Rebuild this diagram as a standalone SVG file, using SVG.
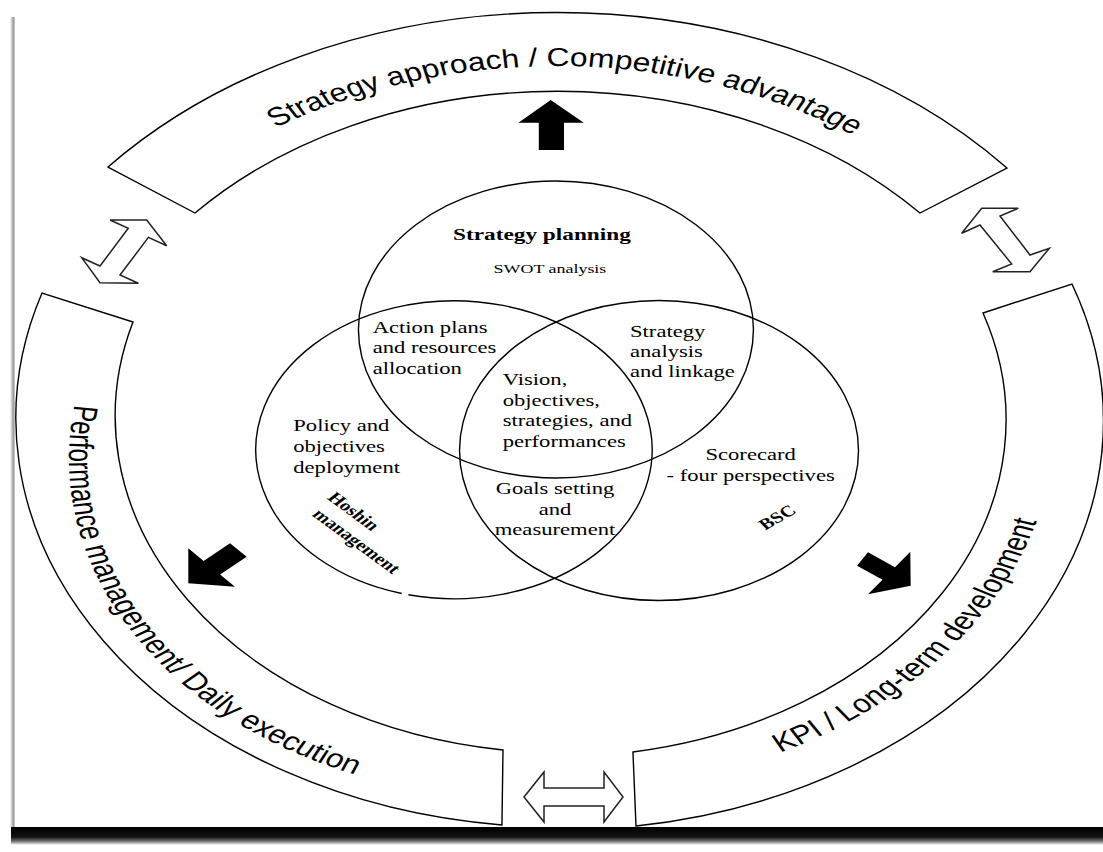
<svg xmlns="http://www.w3.org/2000/svg" xmlns:xlink="http://www.w3.org/1999/xlink" width="1103" height="852" viewBox="0 0 1103 852">
<defs>
<style>
.band{fill:#fff;stroke:#000;stroke-width:1.4;vector-effect:non-scaling-stroke;stroke-linejoin:miter}
.venn{fill:none;stroke:#000;stroke-width:1.4;vector-effect:non-scaling-stroke}
.solid{fill:#000;stroke:none}
.hollow{fill:#fff;stroke:#222;stroke-width:1.5;stroke-linejoin:miter}
.arcl{font-family:"Liberation Sans",Arial,sans-serif;font-size:26px;fill:#000}
.sf{font-family:"Liberation Serif","Times New Roman",serif;fill:#000;font-size:17px}
.b{font-weight:bold}
</style>
<linearGradient id="shadowB" x1="0" y1="0" x2="0" y2="1">
<stop offset="0" stop-color="#000"/>
<stop offset="0.55" stop-color="#111"/>
<stop offset="0.8" stop-color="#777"/>
<stop offset="1" stop-color="#fff"/>
</linearGradient>
<linearGradient id="shadowL" x1="0" y1="0" x2="1" y2="0">
<stop offset="0" stop-color="#fff"/>
<stop offset="0.5" stop-color="#bbb"/>
<stop offset="1" stop-color="#888"/>
</linearGradient>
<path id="pTop" d="M221,256.1 A392,392 0 0 1 899.8,268"/>
<path id="pLeft" d="M236.3,287.6 A339.2,339.2 0 0 0 527.4,797.9"/>
<path id="pRight" d="M495.6,786.7 A374,374 0 0 0 909.4,289.5"/>
</defs>
<rect width="1103" height="852" fill="#fff"/>
<g id="frame">
<rect x="10" y="17" width="4.5" height="811" fill="url(#shadowL)"/>
<rect x="11" y="827" width="1092" height="18" fill="url(#shadowB)"/>
</g>
<g id="diagram" transform="matrix(1.33 0 0 1 -183.81 0)">
<g id="band-top"><path class="band" d="M219.4,167 A446,446 0 0 1 895.3,168 L829.9,213 A366,366 0 0 0 284.8,213 Z"/>
<text class="arcl"><textPath xlink:href="#pTop" href="#pTop" startOffset="50%" text-anchor="middle" textLength="460" lengthAdjust="spacingAndGlyphs">Strategy approach / Competitive advantage</textPath></text></g>
<g id="band-left"><path class="band" d="M169.8,293 A409,409 0 0 0 515.6,825 L516.4,750 A337,337 0 0 1 238.2,322 Z"/>
<text class="arcl"><textPath xlink:href="#pLeft" href="#pLeft" startOffset="50%" text-anchor="middle" textLength="460" lengthAdjust="spacingAndGlyphs">Performance management/ Daily execution</textPath></text></g>
<g id="band-right"><path class="band" d="M944.2,284 A409,409 0 0 1 616.4,826 L614.1,752 A337,337 0 0 0 877.3,313 Z"/>
<text class="arcl"><textPath xlink:href="#pRight" href="#pRight" startOffset="50%" text-anchor="middle" textLength="310" lengthAdjust="spacingAndGlyphs">KPI / Long-term development</textPath></text></g>
<g id="circle-top"><circle class="venn" cx="556.2" cy="329.5" r="148.5"/>
<text class="sf b" x="545.7" y="240" text-anchor="middle" style="font-size:17.5px">Strategy planning</text>
<text class="sf" x="551.7" y="273" text-anchor="middle" style="font-size:13.5px">SWOT analysis</text></g>
<g id="circle-left"><path class="venn" d="M440.2,593.5 A149,149 0 1 1 445.3,594.8"/>
<text class="sf" x="358.7" y="431">Policy and</text>
<text class="sf" x="358.7" y="452">objectives</text>
<text class="sf" x="358.7" y="473">deployment</text>
<text class="sf b" transform="translate(404.4,511) rotate(44.2)" text-anchor="middle" dy="0.35em" style="font-size:15.5px">Hoshin</text>
<text class="sf b" transform="translate(406.6,541) rotate(44.2)" text-anchor="middle" dy="0.35em" style="font-size:15.5px">management</text></g>
<g id="circle-right"><circle class="venn" cx="633.7" cy="450.5" r="150"/>
<text class="sf" x="702.6" y="460" text-anchor="middle">Scorecard</text>
<text class="sf" x="702.6" y="481.5" text-anchor="middle">- four perspectives</text>
<text class="sf b" transform="translate(722.4,517) rotate(-37)" text-anchor="middle" dy="0.35em" style="font-size:15.5px">BSC</text></g>
<g id="overlap-top-left">
<text class="sf" x="418.4" y="332.7">Action plans</text>
<text class="sf" x="418.4" y="353.3">and resources</text>
<text class="sf" x="418.4" y="374">allocation</text></g>
<g id="overlap-top-right">
<text class="sf" x="611.9" y="336.7">Strategy</text>
<text class="sf" x="611.9" y="357">analysis</text>
<text class="sf" x="611.9" y="377.5">and linkage</text></g>
<g id="overlap-center">
<text class="sf" x="516.2" y="385">Vision,</text>
<text class="sf" x="516.2" y="405.7">objectives,</text>
<text class="sf" x="516.2" y="426.5">strategies, and</text>
<text class="sf" x="516.2" y="447.3">performances</text></g>
<g id="overlap-bottom">
<text class="sf" x="555.5" y="494" text-anchor="middle">Goals setting</text>
<text class="sf" x="555.5" y="515" text-anchor="middle">and</text>
<text class="sf" x="555.5" y="535" text-anchor="middle">measurement</text></g>
</g>
<g id="connectors">
<polygon class="solid" points="550.7,100 583.8,122.7 564,122.7 564,150 538.8,150 538.8,122.7 518.4,122.7"/>
<polygon class="solid" points="188.3,583.3 188.3,548.3 203.6,560.9 230,543.3 246.7,556.7 220.1,574.4 235,586.7"/>
<polygon class="solid" points="910.7,585.7 910.3,551.7 895,567.2 868,552.3 857,565.7 882.5,579.7 868,594.3"/>
<polygon class="hollow" points="146.7,220 110,220 128.3,228.3 100,266 81.7,257.7 100,282.7 138.3,283.3 120,275 148.4,237.4 166.7,245.7"/>
<polygon class="hollow" points="981.7,208.3 1018.3,208.3 1000,216 1030,255 1049.3,248.3 1030,271.7 992.7,271.7 1011.7,264 980,225 961.7,233.3"/>
<polygon class="hollow" points="524,797 544,772 544,788 604,788 604,772 623,797 604,822 604,806 544,806 544,822"/>
</g>
</svg>
